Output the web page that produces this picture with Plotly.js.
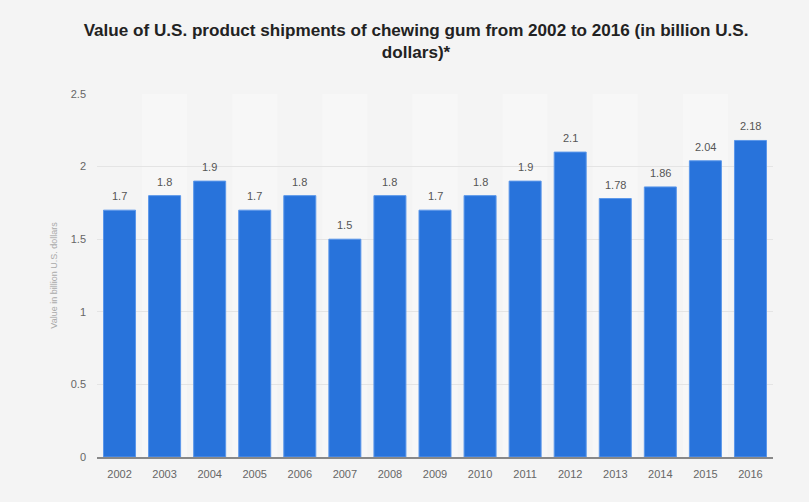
<!DOCTYPE html>
<html>
<head>
<meta charset="utf-8">
<script src="https://cdn.plot.ly/plotly-3.0.1.min.js"></script>
<style>html,body{margin:0;padding:0;background:#f4f4f4;}#chart{width:809px;height:502px;}</style>
</head>
<body>
<div id="chart"></div>
<script>
const years = ['2002','2003','2004','2005','2006','2007','2008','2009','2010','2011','2012','2013','2014','2015','2016'];
const values = [1.7, 1.8, 1.9, 1.7, 1.8, 1.5, 1.8, 1.7, 1.8, 1.9, 2.1, 1.78, 1.86, 2.04, 2.18];
const labels = ['1.7','1.8','1.9','1.7','1.8','1.5','1.8','1.7','1.8','1.9','2.1','1.78','1.86','2.04','2.18'];

const shapes = [];
years.forEach((y, i) => {
  if (i % 2 === 1) {
    shapes.push({type:'rect', xref:'x', yref:'paper', x0:i-0.5, x1:i+0.5, y0:0, y1:1,
      fillcolor:'#f7f7f7', line:{width:0}, layer:'below'});
  }
});

const annotations = years.map((y, i) => ({
  x: i, y: values[i], xref:'x', yref:'y', text: labels[i], showarrow:false,
  yanchor:'bottom', yshift:6,
  font:{family:'Liberation Sans, Arial, sans-serif', size:11, color:'#555'}
}));

const trace = {
  type:'bar', x: years, y: values,
  marker:{color:'#2873db', line:{color:'#5b97ea', width:1}},
  hoverinfo:'none'
};

const layout = {
  width:809, height:502,
  paper_bgcolor:'#f4f4f4', plot_bgcolor:'#f4f4f4',
  margin:{l:97, r:36, t:94, b:45},
  title:{text:'<b>Value of U.S. product shipments of chewing gum from 2002 to 2016 (in billion U.S.<br>dollars)*</b>',
    x:0.472, xref:'paper', xanchor:'center', y:0.928, yref:'container', yanchor:'top',
    font:{family:'Liberation Sans, Arial, sans-serif', size:17.1, color:'#222'}},
  bargap:0.29,
  shapes: shapes,
  annotations: annotations,
  xaxis:{type:'category', range:[-0.5, 14.5], tickfont:{family:'Liberation Sans, Arial, sans-serif', size:11, color:'#666'},
    showgrid:false, showline:true, linecolor:'#888', linewidth:2, ticks:'', ticklen:0, ticklabelstandoff:6, automargin:false},
  yaxis:{range:[0,2.5], tickvals:[0,0.5,1,1.5,2,2.5], ticktext:['0','0.5','1','1.5','2','2.5'],
    tickfont:{family:'Liberation Sans, Arial, sans-serif', size:11, color:'#666'},
    gridcolor:'#e4e4e4', gridwidth:1, zeroline:false, showline:false, ticks:'', ticklabelstandoff:10,
    title:{text:'Value in billion U.S. dollars', standoff:11,
      font:{family:'Liberation Sans, Arial, sans-serif', size:9, color:'#aaa'}}, automargin:false},
  showlegend:false
};
Plotly.newPlot('chart', [trace], layout, {staticPlot:true, displayModeBar:false});
</script>
</body>
</html>
